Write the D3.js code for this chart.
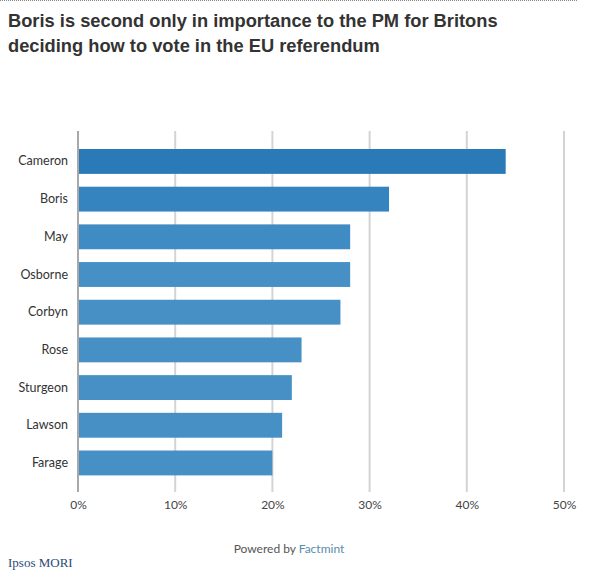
<!DOCTYPE html>
<html><head><meta charset="utf-8">
<script src="https://cdn.jsdelivr.net/npm/d3@7"></script>
<style>
body{margin:0;background:#fff;}
svg{display:block;}
</style></head>
<body>
<script>
const categories = ["Cameron","Boris","May","Osborne","Corbyn","Rose","Sturgeon","Lawson","Farage"];
const values = [44,32,28,28,27,23,22,21,20];
const tickValues = [0,10,20,30,40,50];
const title = ["Boris is second only in importance to the PM for Britons","deciding how to vote in the EU referendum"];

const W=600,H=578;
const svg=d3.select("body").append("svg").attr("width",W).attr("height",H);

svg.append("line").attr("x1",0).attr("x2",577).attr("y1",0.5).attr("y2",0.5)
  .attr("stroke","#888").attr("stroke-dasharray","1,1");

svg.append("text").attr("font-family","Liberation Sans, Arial, sans-serif")
  .attr("font-weight","bold").attr("font-size",18.3).attr("fill","#333")
  .selectAll("tspan").data(title).join("tspan")
  .attr("x",8).attr("y",(d,i)=>27+i*25).text(d=>d);

const x=d3.scaleLinear().domain([0,50]).range([78,564]);
const y=d3.scaleBand().domain(categories).range([142.6,481.8]).paddingInner(0.34).paddingOuter(0.17);

const colors=d3.scaleLinear().domain([0,1,2,3]).range(["#2a7ab8","#3684bf","#3f8bc3","#4690c6"]).clamp(true);

// gridlines
svg.append("g").selectAll("line").data(tickValues).join("line")
  .attr("x1",d=>x(d)).attr("x2",d=>x(d)).attr("y1",131).attr("y2",492)
  .attr("stroke",d=>d===0?"#a8a8a8":"#d4d4d4").attr("stroke-width",2);

svg.append("g").selectAll("rect").data(categories).join("rect")
  .attr("x",x(0)+1).attr("y",d=>y(d)).attr("height",y.bandwidth())
  .attr("width",(d,i)=>x(values[i])-x(0)-1)
  .attr("fill",(d,i)=>colors(i));

const xa=d3.axisBottom(x).tickValues(tickValues).tickFormat(d=>d+"%").tickSize(0);
const gx=svg.append("g").attr("transform","translate(0,497)").call(xa);
gx.select(".domain").remove();
gx.selectAll("text").attr("font-family","Lato, sans-serif").attr("font-size",12).attr("fill","#444").attr("dy","0.71em");

const ya=d3.axisLeft(y).tickSize(0).tickPadding(10);
const gy=svg.append("g").attr("transform","translate(78,0)").call(ya);
gy.select(".domain").remove();
gy.selectAll("text").attr("font-family","Lato, sans-serif").attr("font-size",12.5).attr("fill","#333");

const pb=svg.append("text").attr("x",289).attr("y",553).attr("text-anchor","middle")
  .attr("font-family","Lato, sans-serif").attr("font-size",12).attr("fill","#555");
pb.append("tspan").text("Powered by ");
pb.append("tspan").attr("fill","#5a8cab").text("Factmint");

svg.append("text").attr("x",8).attr("y",567).attr("font-family","Liberation Serif, serif")
  .attr("font-size",13).attr("fill","#2c4a78").text("Ipsos MORI");
</script>
</body></html>
